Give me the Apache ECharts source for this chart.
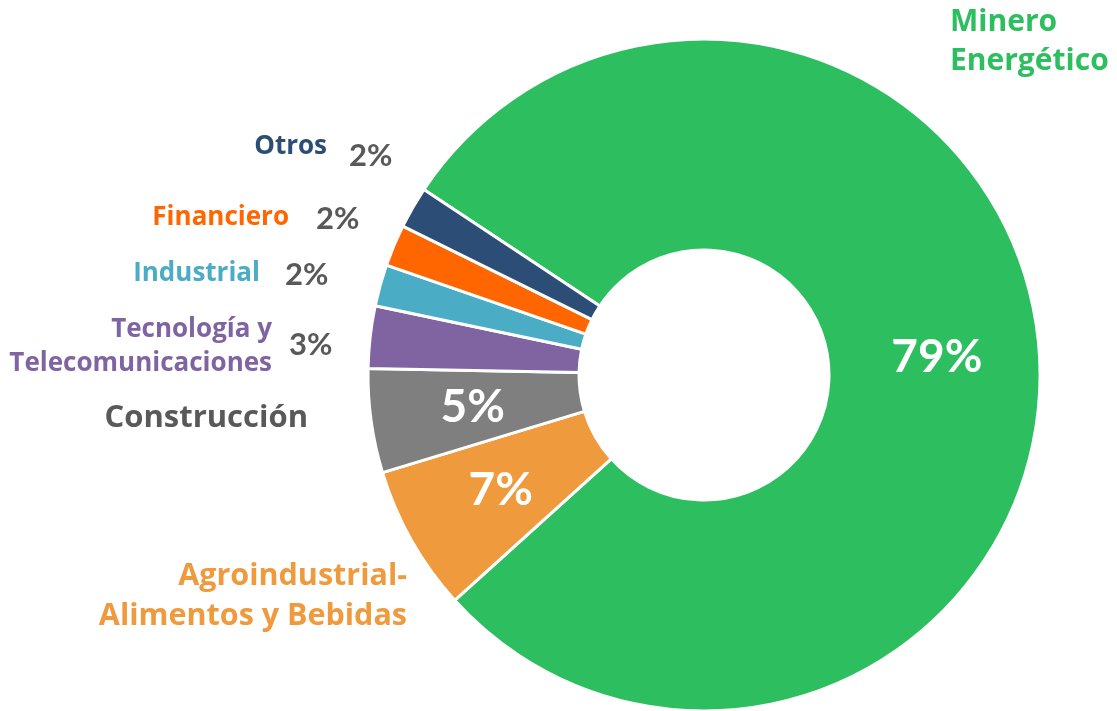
<!DOCTYPE html>
<html style="height: 100%">
<head>
  <meta charset="utf-8">
  <script src="https://cdn.jsdelivr.net/npm/echarts@6/dist/echarts.min.js"></script>
</head>
<body style="height: 100%; margin: 0; background: #fff">
<div id="main" style="width: 1117px; height: 711px"></div>
<script>
  // sectors, clockwise from the top-left edge of the big slice
  var sectors = ['Minero\nEnergético', 'Agroindustrial-\nAlimentos y Bebidas', 'Construcción',
                 'Tecnología y\nTelecomunicaciones', 'Industrial', 'Financiero', 'Otros'];
  var shares = [79, 7, 5, 3, 2, 2, 2];
  var colors = ['#2dbe60', '#f09a3e', '#7f7f7f', '#8064a2', '#4bacc6', '#ff6600', '#2c4d75'];
  var nameColors = ['#2dbe60', '#f09a3e', '#595959', '#8064a2', '#4bacc6', '#ff6600', '#2c4d75'];

  // label placement (x, y, align) for names; percents of thin slices sit beside names
  var namePos = [[950, 42, 'left'], [407, 596, 'right'], [308, 418, 'right'], [272, 347, 'right'],
                 [260, 274, 'right'], [289, 218, 'right'], [327, 147, 'right']];
  var pctPos = [null, null, null, [289, 345], [285, 275], [316, 219], [349, 156]];
  var nameSize = [30, 30.5, 31, 26, 26, 26, 26];

  var nameFont = '"Open Sans", Lato, sans-serif';
  var pctFont = 'Lato, "Open Sans", sans-serif';
  var myChart = echarts.init(document.getElementById('main'));

  var pctData = shares.map(function (v, i) {
    var inside = pctPos[i] === null;
    return {
      name: sectors[i],
      value: v,
      itemStyle: {color: colors[i]},
      label: {
        position: inside ? 'inside' : 'outside',
        color: inside ? '#fff' : '#595959',
        fontSize: inside ? 46 : 31
      }
    };
  });
  var nameData = shares.map(function (v, i) {
    return {
      name: sectors[i],
      value: v,
      label: {color: nameColors[i], fontSize: nameSize[i], lineHeight: Math.round(nameSize[i] * 1.3)}
    };
  });

  var option = {
    animation: false,
    series: [
      {
        type: 'pie',
        center: [704, 375],
        radius: [125, 336],
        startAngle: 146.5,
        avoidLabelOverlap: false,
        itemStyle: {borderColor: '#fff', borderWidth: 3},
        label: {
          formatter: function (p) { return p.value + '%'; },
          fontFamily: pctFont,
          fontWeight: 'bold'
        },
        labelLine: {show: false},
        labelLayout: function (p) {
          var pos = pctPos[p.dataIndex];
          if (!pos) return {};
          return {x: pos[0], y: pos[1], align: 'left', verticalAlign: 'middle'};
        },
        data: pctData
      },
      {
        type: 'pie',
        silent: true,
        center: [704, 375],
        radius: [125, 336],
        startAngle: 146.5,
        avoidLabelOverlap: false,
        itemStyle: {color: 'rgba(0,0,0,0)'},
        label: {
          position: 'outside',
          formatter: '{b}',
          fontFamily: nameFont,
          fontWeight: 'bold'
        },
        labelLine: {show: false},
        labelLayout: function (p) {
          var pos = namePos[p.dataIndex];
          return {x: pos[0], y: pos[1], align: pos[2], verticalAlign: 'middle'};
        },
        data: nameData
      }
    ]
  };
  myChart.setOption(option);
</script>
</body>
</html>
